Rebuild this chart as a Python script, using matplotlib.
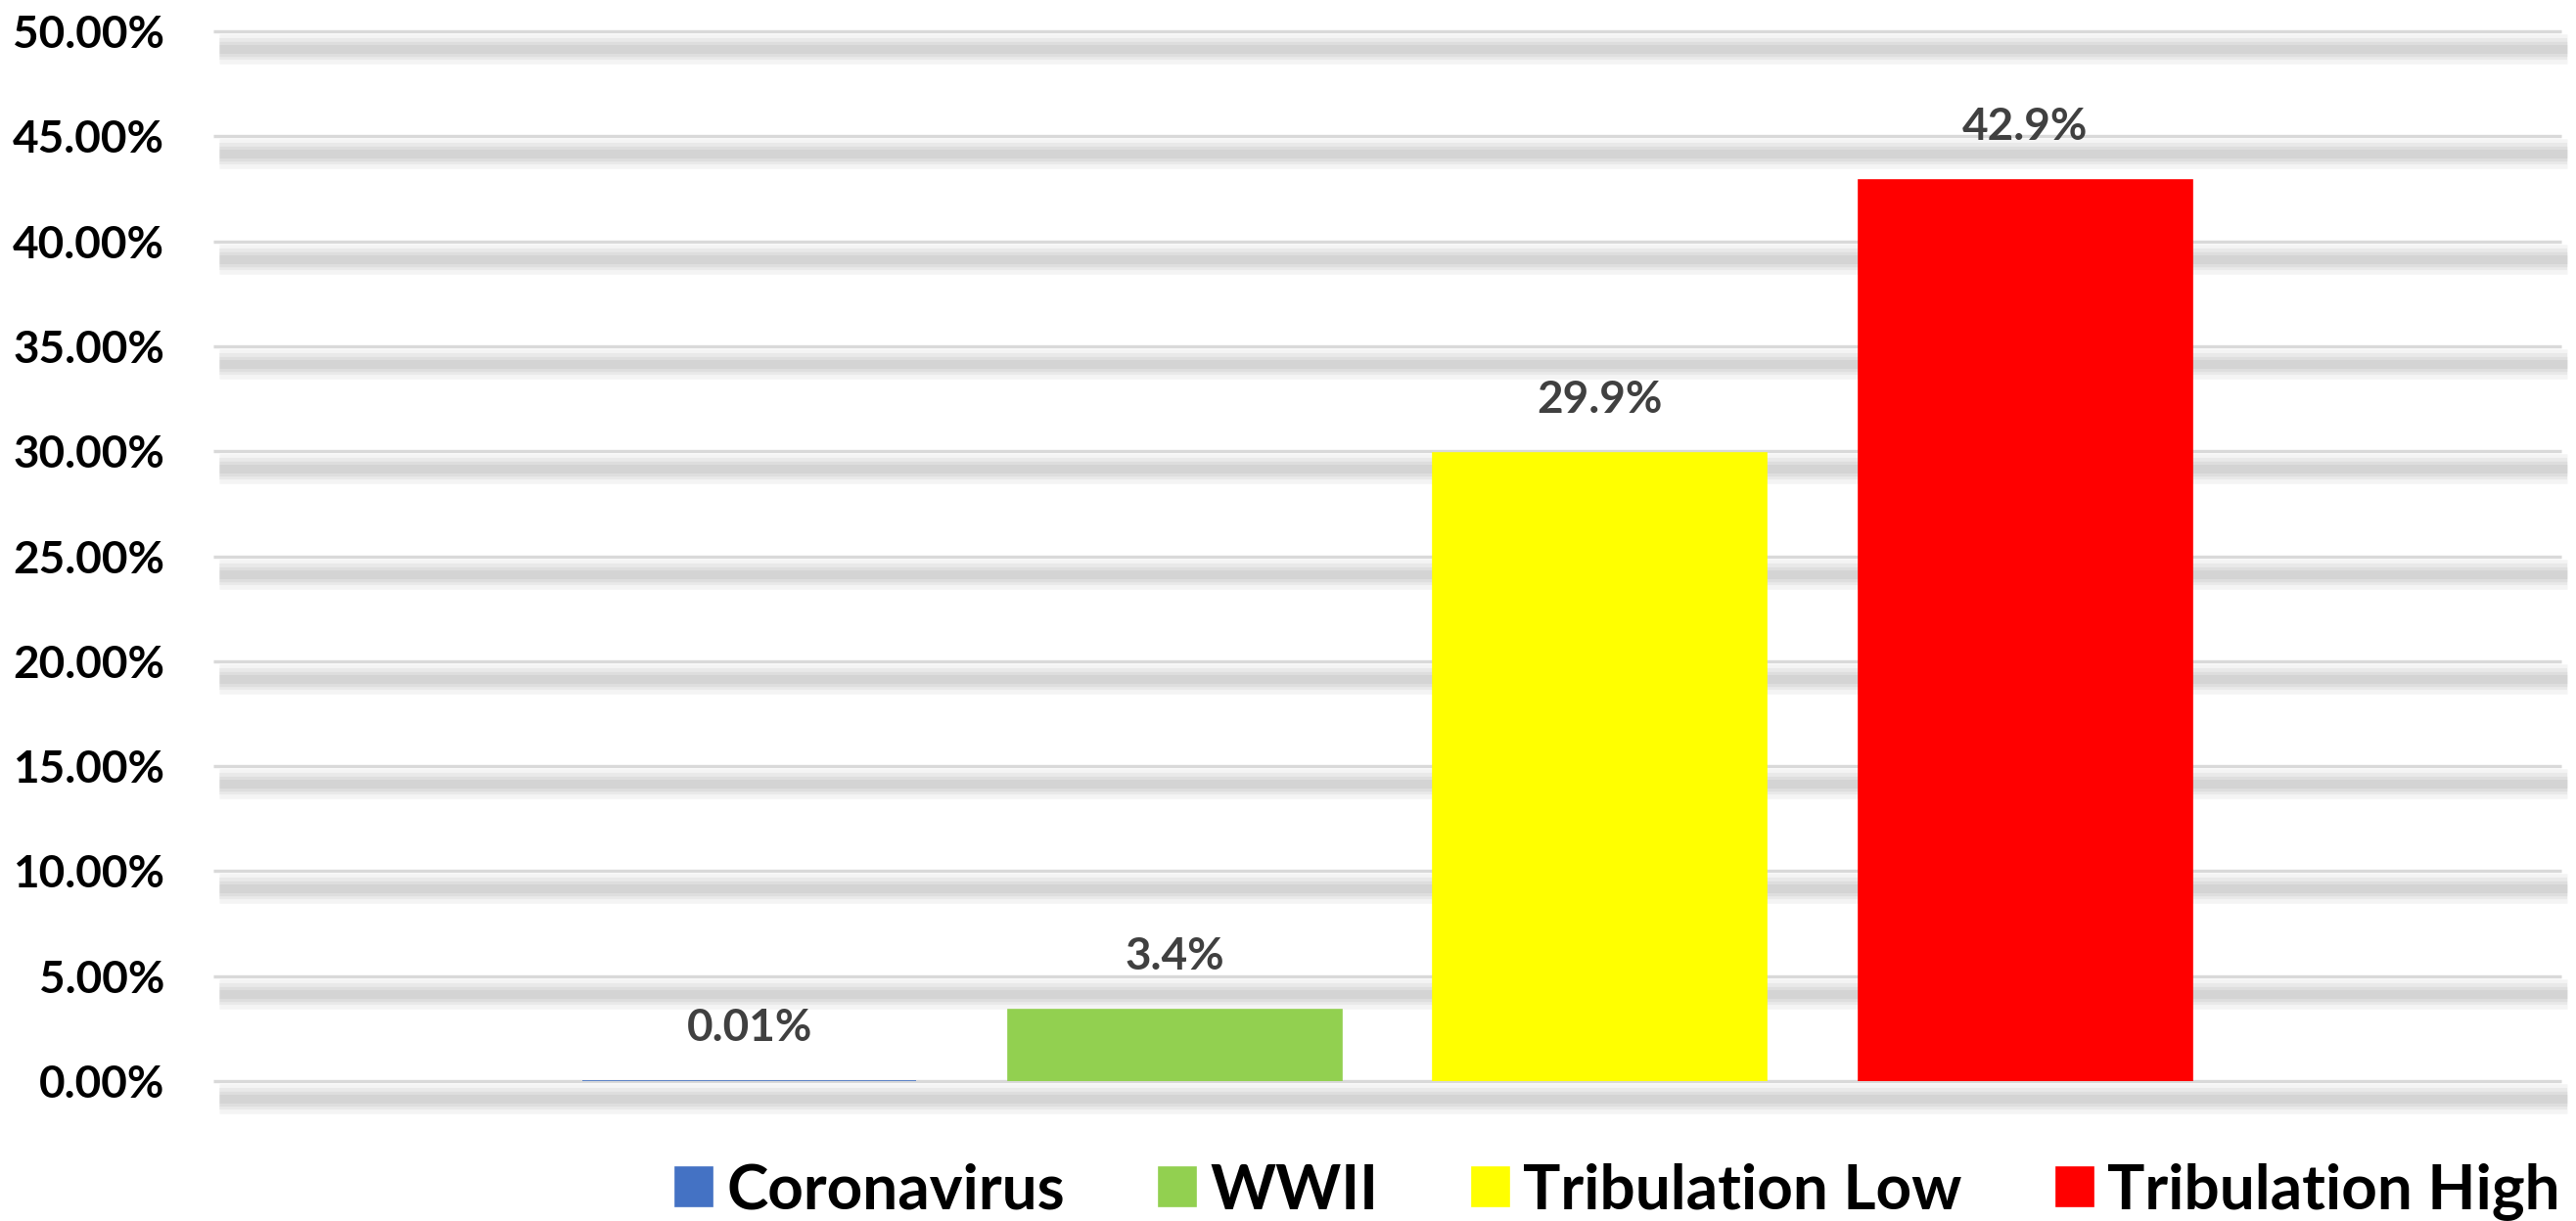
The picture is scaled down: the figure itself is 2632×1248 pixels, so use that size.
import matplotlib.pyplot as plt
import matplotlib.patheffects as pe
import numpy as np

# data (percent)
series = ["Coronavirus", "WWII", "Tribulation Low", "Tribulation High"]
values = [0.01, 3.4, 29.9, 42.9]
value_labels = ["0.01%", "3.4%", "29.9%", "42.9%"]
colors = ["#4472C4", "#92D050", "#FFFF00", "#FF0000"]
yticks = np.arange(0, 50.01, 5)

plt.rcParams["font.family"] = ["Lato", "DejaVu Sans"]
plt.rcParams["font.weight"] = "bold"

fig = plt.figure(figsize=(26.32, 12.48), dpi=100)
ax = fig.add_axes([218 / 2632, 143 / 1248, (2617 - 218) / 2632, (1105 - 32) / 1248])

# gridlines with a soft drop shadow, Excel style
shadow = [pe.SimpleLineShadow(offset=(4, -13), shadow_color="black", alpha=0.045,
                              linewidth=w, capstyle="butt")
          for w in (22, 16, 11, 6.5)]
for y in yticks:
    ax.axhline(y, color="#d9d9d9", lw=2.4, zorder=0, clip_on=False,
               solid_capstyle="butt", path_effects=shadow + [pe.Normal()])

x = np.arange(len(series))
bars = ax.bar(x, values, width=0.785, color=colors, edgecolor=colors,
              linewidth=1.2, zorder=2)
for b, lab in zip(bars, series):
    b.set_label(lab)

for xi, v, t in zip(x, values, value_labels):
    ax.annotate(t, (xi, v), xytext=(0, 39), textcoords="offset points",
                ha="center", va="center", fontsize=33, fontweight="bold",
                color="#404040", zorder=3)

ax.set_xlim(-1.26, 4.26)
ax.set_ylim(0, 50)
ax.set_xticks([])
ax.set_yticks(yticks)
ax.set_yticklabels([f"{t:.2f}%" for t in yticks])
ax.tick_params(axis="y", length=0, pad=36, labelsize=33, labelcolor="black")
for s in ax.spines.values():
    s.set_visible(False)

fig.legend(handles=list(bars), loc="center left", bbox_to_anchor=(690 / 2632, 30 / 1248),
           ncol=4, frameon=False, handlelength=0.6, handleheight=0.6,
           handletextpad=0.22, columnspacing=1.5, borderpad=0, borderaxespad=0,
           prop={"weight": "bold", "size": 46})

fig.savefig("out.png", dpi=100, facecolor="white")
